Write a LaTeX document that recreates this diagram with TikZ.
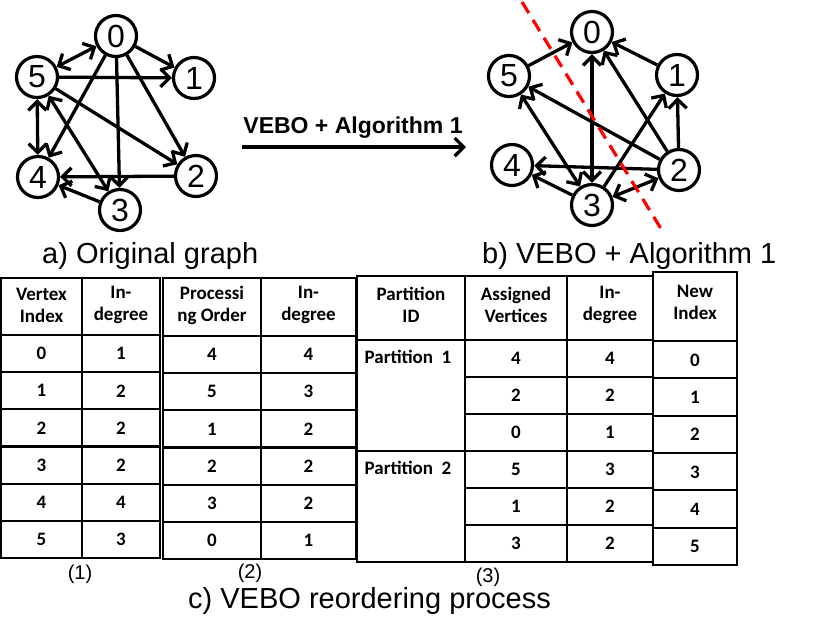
\documentclass[tikz,border=0pt]{standalone}
\usepackage{fontspec}
\setmainfont{Liberation Sans}
\newfontfamily\tabfont{Carlito}
\usetikzlibrary{arrows.meta}

\tikzset{
	vertex/.style={draw,circle,line width=3.2pt,minimum size=41pt,inner sep=0pt,font=\fontsize{32}{32}\selectfont},
	edge/.style={line width=3.3pt,-{Straight Barb[length=9pt,width=18pt]}},
	biedge/.style={line width=3.3pt,{Straight Barb[length=9pt,width=18pt]}-{Straight Barb[length=9pt,width=18pt]}},
	cell/.style={font=\tabfont\bfseries\fontsize{19}{22}\selectfont,align=center,inner sep=0pt},
	caption/.style={font=\fontsize{29}{29}\selectfont,inner sep=0pt},
	sublabel/.style={font=\fontsize{20}{20}\selectfont,inner sep=0pt},
	tabline/.style={line width=2.3pt},
}

\begin{document}
\begin{tikzpicture}[x=1pt,y=-1pt]
		\useasboundingbox (0,0) rectangle (830,633);
		
		% a) original graph
		\node[vertex] (a0) at (116,36) {0};
		\node[vertex] (a5) at (37,77) {5};
		\node[vertex] (a1) at (194,78) {1};
		\node[vertex] (a4) at (38,177) {4};
		\node[vertex] (a2) at (196,176) {2};
		\node[vertex] (a3) at (120,210) {3};
		\draw[biedge] (a0) to (a5);
		\draw[edge] (a0) to (a1);
		\draw[edge] (a5) to (a1);
		\draw[edge] (a0) to (a4);
		\draw[edge] (a0) to (a3);
		\draw[edge] (a0) to (a2);
		\draw[edge] (a5) to (a2);
		\draw[biedge] (a5) to (a4);
		\draw[biedge] (a5) to (a3);
		\draw[edge] (a2) to (a4);
		\draw[edge] (a3) to (a4);
		\node[caption,anchor=base west] (capa) at (42,263) {a) Original graph};
		
		% middle arrow
		\coordinate (mstart) at (242,147);
		\coordinate (mend) at (466,147);
		\draw[edge] (mstart) to (mend);
		\node[font=\bfseries\fontsize{23}{23}\selectfont] (mlabel) at (353,128) {VEBO + Algorithm 1};
		
		% b) after VEBO
		\node[vertex] (b0) at (592,32) {0};
		\node[vertex] (b5) at (509,76) {5};
		\node[vertex] (b1) at (677,75) {1};
		\node[vertex] (b4) at (512,165) {4};
		\node[vertex] (b2) at (679,170) {2};
		\node[vertex] (b3) at (592,205) {3};
		\draw[edge] (b5) to (b0);
		\draw[edge] (b1) to (b0);
		\draw[edge] (b2) to (b0);
		\draw[biedge] (b3) to (b0);
		\draw[edge] (b2) to (b5);
		\draw[biedge] (b3) to (b5);
		\draw[edge] (b3) to (b1);
		\draw[edge] (b2) to (b1);
		\draw[edge] (b2) to (b4);
		\draw[edge] (b3) to (b4);
		\draw[biedge] (b3) to (b2);
		\coordinate (cuttop) at (522,2);
		\coordinate (cutbot) at (663,232);
		\draw[red,line width=3.2pt,dash pattern=on 13pt off 8pt] (cuttop) to (cutbot);
		\node[caption,anchor=base west] (capb) at (482,263) {b) VEBO + Algorithm 1};
		
		% c) tables
		% (1)
		\draw[tabline] (1,278) rectangle (160,558);
		\draw[tabline] (82,278) to (82,558);
		\foreach \k in {0,...,5}
			\draw[tabline] (1,{335+37.17*\k}) to (160,{335+37.17*\k});
		\node[cell] (h11) at (41.5,305) {Vertex\\Index};
		\node[cell] (h12) at (121,305) {In-\\degree};
		\foreach \v/\d [count=\k from 0] in {0/1,1/2,2/2,3/2,4/4,5/3} {
			\node[cell] (r1v\k) at (41.5,{353.6+37.17*\k}) {\v};
			\node[cell] (r1d\k) at (121,{353.6+37.17*\k}) {\d};
		}
		\node[sublabel] (lab1) at (80,574) {(1)};
		
		% (2)
		\draw[tabline] (163,278) rectangle (356,559);
		\draw[tabline] (261,278) to (261,559);
		\foreach \k in {0,...,5}
			\draw[tabline] (163,{336+37.17*\k}) to (356,{336+37.17*\k});
		\node[cell] (h21) at (212,305) {Processi\\ng Order};
		\node[cell] (h22) at (308.5,305) {In-\\degree};
		\foreach \v/\d [count=\k from 0] in {4/4,5/3,1/2,2/2,3/2,0/1} {
			\node[cell] (r2v\k) at (212,{354.6+37.17*\k}) {\v};
			\node[cell] (r2d\k) at (308.5,{354.6+37.17*\k}) {\d};
		}
		\node[sublabel] (lab2) at (250,573) {(2)};
		
		% (3)
		\draw[tabline] (357,276) rectangle (653,562);
		\draw[tabline] (465,276) to (465,562);
		\draw[tabline] (567,276) to (567,562);
		\draw[tabline] (357,340) to (653,340);
		\draw[tabline] (357,451) to (653,451);
		\foreach \k in {1,2,4,5}
			\draw[tabline] (465,{340+37*\k}) to (653,{340+37*\k});
		\node[cell] (h31) at (411,305) {Partition\\ID};
		\node[cell] (h32) at (516,305) {Assigned\\Vertices};
		\node[cell] (h33) at (610,305) {In-\\degree};
		\node[cell] (p1) at (408,357) {Partition~~1};
		\node[cell] (p2) at (408,468) {Partition~~2};
		\foreach \v/\d [count=\k from 0] in {4/4,2/2,0/1,5/3,1/2,3/2} {
			\node[cell] (r3v\k) at (516,{358.5+37*\k}) {\v};
			\node[cell] (r3d\k) at (610,{358.5+37*\k}) {\d};
		}
		\node[sublabel] (lab3) at (488,577) {(3)};
		
		% new index
		\draw[tabline] (653,272) rectangle (737,565);
		\foreach \k in {0,...,5}
			\draw[tabline] (653,{341+37.33*\k}) to (737,{341+37.33*\k});
		\node[cell] (h41) at (695,302) {New\\Index};
		\foreach \k in {0,...,5}
			\node[cell] (r4\k) at (695,{360+37.33*\k}) {\k};
		
		\node[caption,anchor=base west] (capc) at (188,608) {c) VEBO reordering process};
	\end{tikzpicture}
\end{document}
